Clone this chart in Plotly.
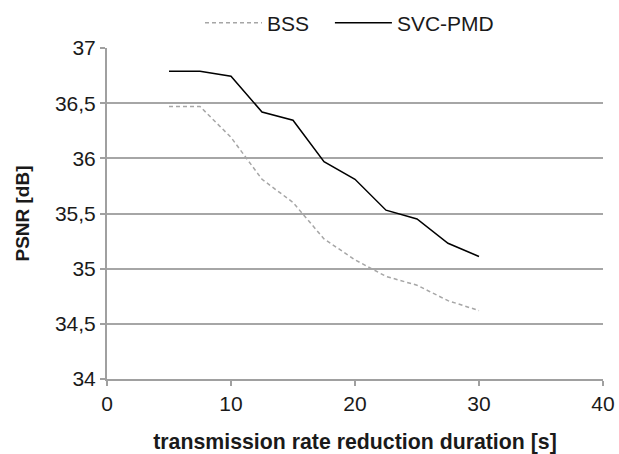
import plotly.graph_objects as go

x_values = [5, 7.5, 10, 12.5, 15, 17.5, 20, 22.5, 25, 27.5, 30]
bss = [36.47, 36.47, 36.19, 35.81, 35.60, 35.27, 35.08, 34.93, 34.85, 34.71, 34.62]
svc_pmd = [36.79, 36.79, 36.745, 36.42, 36.345, 35.97, 35.81, 35.53, 35.45, 35.23, 35.11]
y_ticks = [34, 34.5, 35, 35.5, 36, 36.5, 37]
y_tick_labels = ["34", "34,5", "35", "35,5", "36", "36,5", "37"]
x_ticks = [0, 10, 20, 30, 40]
series_names = ["BSS\u00a0\u00a0\u2009", "SVC-PMD"]

font_family = "Liberation Sans, Arial, sans-serif"
txt = "#1a1a1a"

fig = go.Figure()
fig.add_trace(go.Scatter(x=x_values, y=bss, mode="lines", name=series_names[0],
                         line=dict(color="#a6a6a6", width=1.5, dash="4px,3px")))
fig.add_trace(go.Scatter(x=x_values, y=svc_pmd, mode="lines", name=series_names[1],
                         line=dict(color="#000000", width=1.5)))

fig.update_layout(
    width=619, height=454,
    margin=dict(l=107, r=16, t=48, b=75, autoexpand=False),
    paper_bgcolor="white", plot_bgcolor="white",
    font=dict(family=font_family, size=21, color=txt),
    legend=dict(orientation="h", x=(200 - 107) / 496, y=1 + (48 - 23) / 331,
                xanchor="left", yanchor="middle",
                font=dict(size=21, color=txt), itemwidth=57,
                bgcolor="rgba(0,0,0,0)"),
    xaxis=dict(range=[0, 40], tickvals=x_ticks, showgrid=False, automargin=False,
               showline=True, linecolor="#a0a0a0", linewidth=2,
               ticks="outside", ticklen=5, tickcolor="#a0a0a0", tickwidth=1.5,
               zeroline=False, tickfont=dict(size=21, color=txt),
               title=dict(text="<b>transmission rate reduction duration [s]</b>",
                          font=dict(size=21.3, color=txt), standoff=21)),
    yaxis=dict(range=[34, 37], tickvals=y_ticks, ticktext=y_tick_labels, automargin=False,
               showgrid=True, gridcolor="#a6a6a6", gridwidth=1.5,
               showline=True, linecolor="#a0a0a0", linewidth=2,
               ticks="outside", ticklen=5, tickcolor="#a0a0a0", tickwidth=1.5,
               zeroline=False, tickfont=dict(size=21, color=txt),
               title=dict(text="<b>PSNR [dB]</b>", font=dict(size=19, color=txt),
                          standoff=20)),
)

fig.write_html("out.html", config={"displayModeBar": False},
               post_script="document.body.style.margin='0';")
